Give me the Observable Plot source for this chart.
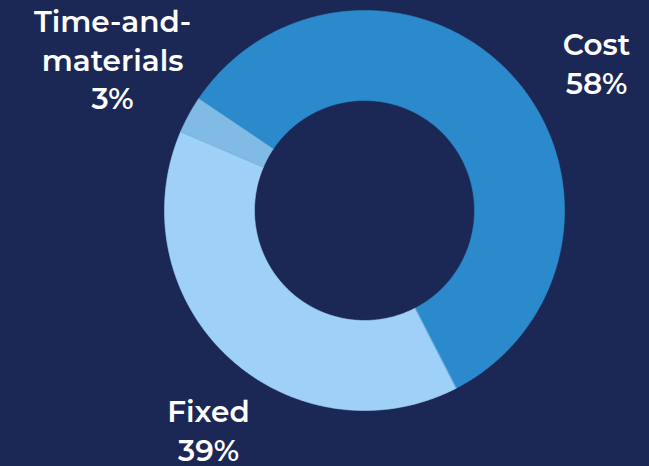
<!DOCTYPE html>
<html>
<head>
<meta charset="utf-8">
<script src="https://cdn.jsdelivr.net/npm/d3@7"></script>
<script src="https://cdn.jsdelivr.net/npm/@observablehq/plot@0.6"></script>
<style>
  html, body { margin: 0; padding: 0; background: #1b2855; }
  #chart { width: 649px; height: 466px; }
</style>
</head>
<body>
<div id="chart"></div>
<script>
// Data
const categories = ["Cost", "Fixed", "Time-and-materials"];
const shares = [58, 39, 3];
const labelLines = [["Cost", "58%"], ["Fixed", "39%"], ["Time-and-", "materials", "3%"]];
const colors = ["#2b8acb", "#9fd1f8", "#7fbbe5"];

// Layout (not data)
const startDeg = -56;      // angle of first slice start, clockwise from 12 o'clock
const innerR = 0.55;       // inner radius as a fraction of outer
const lineStep = 0.193;    // line spacing in data units
const labelAnchors = [     // centre of first label line, data space (unit circle)
  [1.16, 0.825],
  [-0.78, -1.01],
  [-1.26, 0.94]
];

// Build slice polygons in data space
const pie = d3.pie().sort(null).value(d => d)
  .startAngle(startDeg * Math.PI / 180)
  .endAngle((startDeg + 360) * Math.PI / 180)(shares);
const polys = [];
pie.forEach((s, i) => {
  const n = Math.max(4, Math.ceil((s.endAngle - s.startAngle) * 180 / Math.PI * 2));
  const pts = [];
  for (let k = 0; k <= n; k++) {
    const a = s.startAngle + (s.endAngle - s.startAngle) * k / n;
    pts.push({x: Math.sin(a), y: Math.cos(a)});
  }
  for (let k = n; k >= 0; k--) {
    const a = s.startAngle + (s.endAngle - s.startAngle) * k / n;
    pts.push({x: innerR * Math.sin(a), y: innerR * Math.cos(a)});
  }
  pts.forEach((p) => polys.push({cat: categories[i], x: p.x, y: p.y}));
});

const labels = [];
labelLines.forEach((lines, i) => {
  lines.forEach((t, k) => {
    labels.push({text: t, x: labelAnchors[i][0], y: labelAnchors[i][1] - k * lineStep});
  });
});

const chart = Plot.plot({
  width: 649,
  height: 466,
  margin: 0,
  style: {background: "#1b2855", overflow: "visible"},
  x: {domain: [-1, 1], range: [164, 564], axis: null},
  y: {domain: [-1, 1], range: [410, 10], axis: null},
  color: {domain: categories, range: colors},
  marks: [
    Plot.line(polys, {x: "x", y: "y", z: "cat", fill: "cat", stroke: "cat", strokeWidth: 0.6, curve: "linear-closed"}),
    Plot.text(labels, {
      x: "x", y: "y", text: "text",
      fill: "white", fontSize: 29.5, fontWeight: 600,
      fontFamily: "Montserrat, 'Open Sans', sans-serif",
      textAnchor: "middle", lineAnchor: "middle"
    })
  ]
});
document.getElementById("chart").appendChild(chart);
</script>
</body>
</html>
